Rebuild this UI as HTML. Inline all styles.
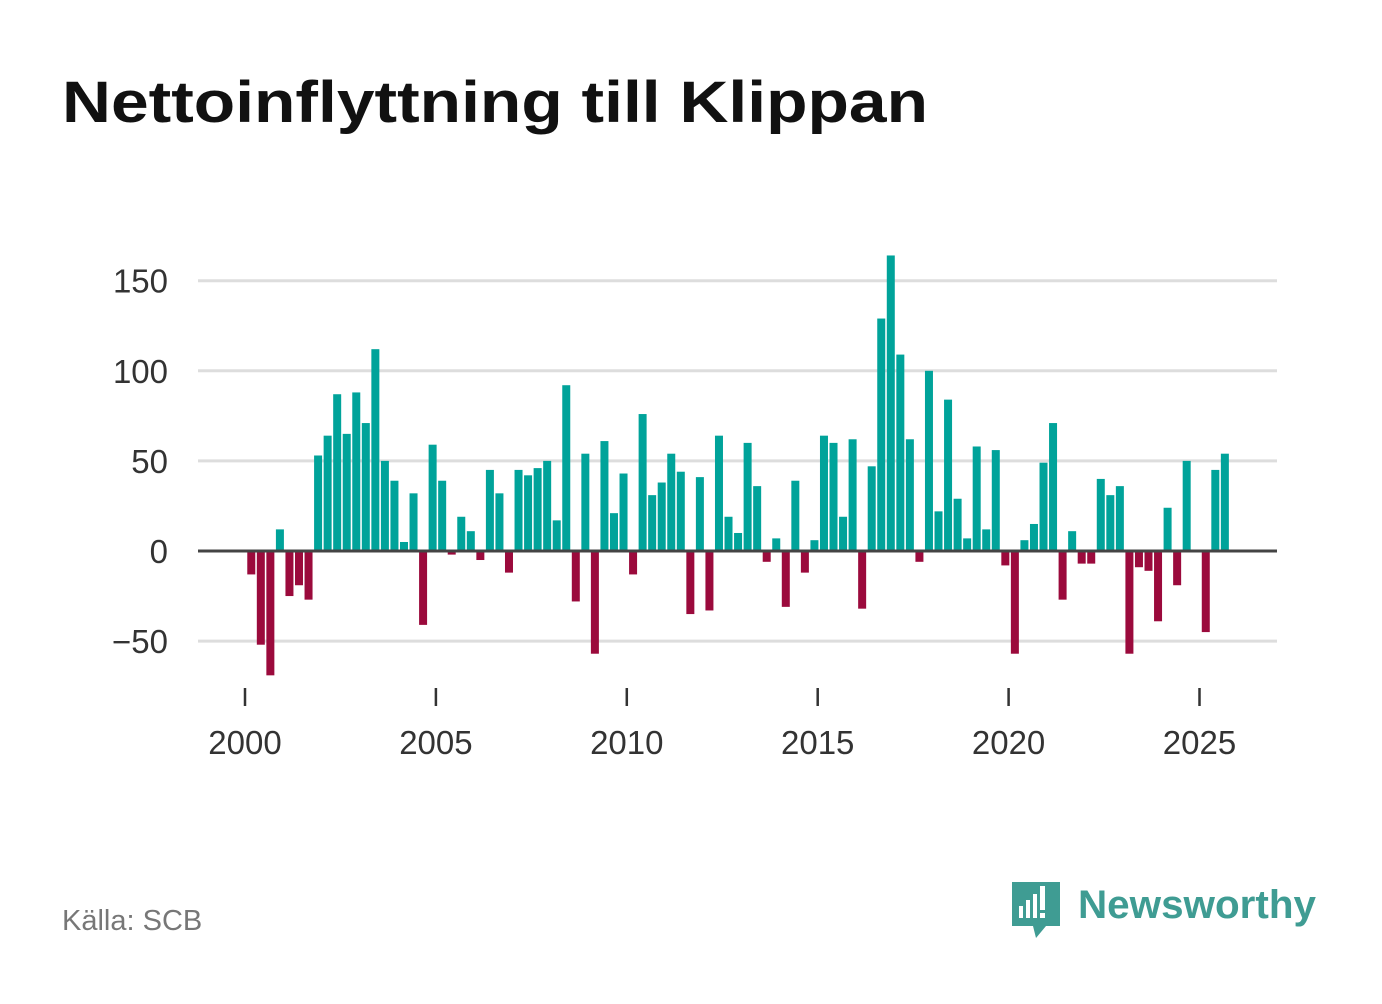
<!DOCTYPE html>
<html><head><meta charset="utf-8"><style>
body{margin:0;background:#fff;width:1382px;height:999px;overflow:hidden;font-family:"Liberation Sans",sans-serif}
</style></head><body>
<svg id="chart" width="1382" height="999">
<text x="62" y="122" font-size="58" font-weight="bold" fill="#111" textLength="866" lengthAdjust="spacingAndGlyphs">Nettoinflyttning till Klippan</text>
<g id="grid"></g><g id="bars"></g><g id="xaxis"></g>
<text x="62" y="930" font-size="29" fill="#777">Källa: SCB</text>
<g>
<path d="M1012 882h48v44h-14l-10 12l-3-12h-21z" fill="#3f9c93"/>
<rect x="1019" y="906" width="4" height="12" fill="#fff"/><rect x="1026" y="900" width="4" height="18" fill="#fff"/><rect x="1033" y="894" width="4" height="24" fill="#fff"/><rect x="1040" y="886" width="5" height="24" fill="#fff"/><rect x="1040" y="913" width="5" height="5" fill="#fff"/>
<text x="1078" y="918" font-size="40" font-weight="bold" fill="#3f9c93" textLength="238" lengthAdjust="spacingAndGlyphs">Newsworthy</text>
</g>
</svg>
<script>
const values=[-13,-52,-69,12,-25,-19,-27,53,64,87,65,88,71,112,50,39,5,32,-41,59,39,-2,19,11,-5,45,32,-12,45,42,46,50,17,92,-28,54,-57,61,21,43,-13,76,31,38,54,44,-35,41,-33,64,19,10,60,36,-6,7,-31,39,-12,6,64,60,19,62,-32,47,129,164,109,62,-6,100,22,84,29,7,58,12,56,-8,-57,6,15,49,71,-27,11,-7,-7,40,31,36,-57,-9,-11,-39,24,-19,50,0,-45,45,54];
const yTicks=[-50,0,50,100,150];
const yTickLabels=["−50","0","50","100","150"];
const xTicks=[2000,2005,2010,2015,2020,2025];
const startYear=2000;
const ns="http://www.w3.org/2000/svg";
const y=v=>551-v*1.802;
const x=t=>245+(t-2000)*38.18;
function mk(tag,attrs,parent){const e=document.createElementNS(ns,tag);for(const k in attrs)e.setAttribute(k,attrs[k]);parent.appendChild(e);return e;}
const grid=document.getElementById('grid'),bars=document.getElementById('bars'),xa=document.getElementById('xaxis');
yTicks.forEach((t,i)=>{
 if(t!==0){const l=mk('line',{x1:198,x2:1277,y1:y(t),y2:y(t),stroke:'#ddd','stroke-width':3},grid);
 
 }
 const tx=mk('text',{x:168,y:y(t)+12,'font-size':33,fill:'#333','text-anchor':'end'},grid);tx.textContent=yTickLabels[i];
 
 
});
values.forEach((v,i)=>{
 const c=x(startYear+(i+0.5)/4)+1.5;
 const r=mk('rect',{x:c-4,width:8,y:Math.min(y(v),y(0)),height:Math.abs(y(v)-y(0)),fill:v>=0?'#00a39a':'#9b0a3c'},bars);
 
 
});
const z=mk('line',{x1:198,x2:1277,y1:y(0),y2:y(0),stroke:'#444','stroke-width':3},bars);


xTicks.forEach(t=>{
 const l=mk('line',{x1:x(t),x2:x(t),y1:688,y2:706,stroke:'#333','stroke-width':2.5},xa);
 
 
 const tx=mk('text',{x:x(t),y:754,'font-size':33,fill:'#333','text-anchor':'middle'},xa);tx.textContent=t;
 
 
});
</script>
</body></html>
